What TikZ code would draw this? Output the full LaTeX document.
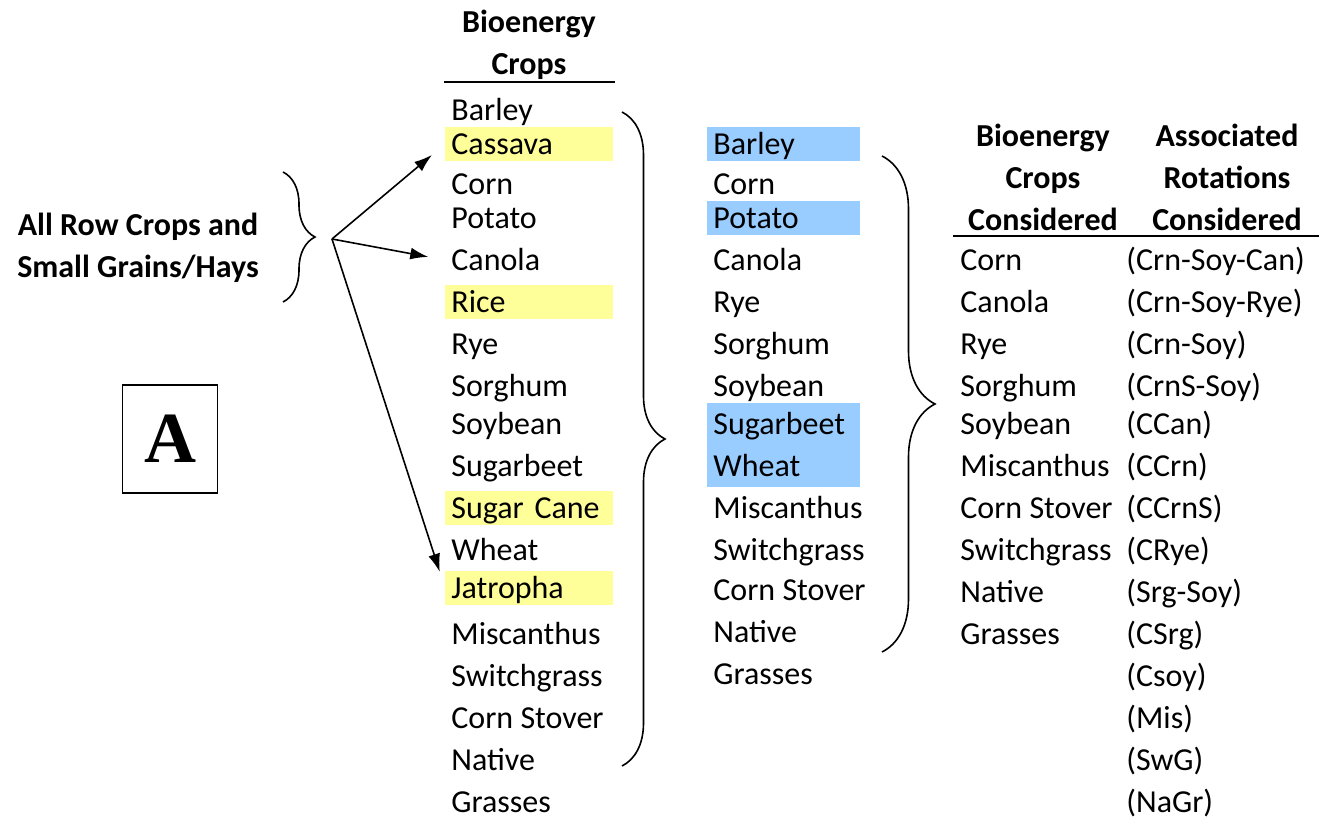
\documentclass[tikz,border=0pt]{standalone}
\usepackage{fontspec}
\setmainfont{Carlito}
\newfontfamily\boxfont{Liberation Serif}
\usepackage{xcolor}
\usetikzlibrary{positioning}
\usetikzlibrary{arrows.meta}
\usetikzlibrary{decorations.pathreplacing}
\definecolor{hlyellow}{RGB}{255,255,153}
\definecolor{hlblue}{RGB}{153,204,255}

\begin{document}
\begin{tikzpicture}
  [x=0.5pt, y=-0.5pt,
    font=\fontsize{16}{21}\selectfont,
    cell/.style={anchor=west, inner xsep=3pt, inner ysep=0pt,
      text height=14pt, text depth=3pt, align=left},
    hy/.style={fill=hlyellow, text width=78pt},
    hb/.style={fill=hlblue, text width=70.5pt},
    head/.style={font=\fontsize{16}{21}\selectfont\bfseries, align=center},
    rule/.style={draw, line width=#1},
    brc/.style={draw, line width=0.8pt, decorate,
      decoration={brace,amplitude=#1}},
    ld/.style={draw, line width=0.8pt, shorten >=8.5pt,
      -{Latex[length=9pt,width=6pt]}}
  ]
  \useasboundingbox (0,0) rectangle (1319,817);

  \node (allrow) at (138,248) [head] {All Row Crops and\\Small Grains/Hays};
  \node (boxA) at (170,439) [draw, line width=0.8pt, minimum width=47.5pt,
    minimum height=54pt, font={\boxfont\bfseries\fontsize{36}{40}\selectfont}] {A};

  \node (headB) at (529,45) [head] {Bioenergy\\Crops};
  \draw [rule=1pt] (444,82) -- (615,82);

  \node  (b0) at (445,110) [cell]     {Barley};
  \node  (b1) at (445,144) [cell, hy] {Cassava};
  \node  (b2) at (445,184) [cell]     {Corn};
  \node  (b3) at (445,218) [cell]     {Potato};
  \node  (b4) at (445,260) [cell]     {Canola};
  \node  (b5) at (445,302) [cell, hy] {Rice};
  \node  (b6) at (445,344) [cell]     {Rye};
  \node  (b7) at (445,386) [cell]     {Sorghum};
  \node  (b8) at (445,424) [cell]     {Soybean};
  \node  (b9) at (445,466) [cell]     {Sugarbeet};
  \node (b10) at (445,508) [cell, hy] {Sugar Cane};
  \node (b11) at (445,550) [cell]     {Wheat};
  \node (b12) at (445,588) [cell, hy] {Jatropha};
  \node (b13) at (445,634) [cell]     {Miscanthus};
  \node (b14) at (445,676) [cell]     {Switchgrass};
  \node (b15) at (445,718) [cell]     {Corn Stover};
  \node (b16) at (445,760) [cell]     {Native};
  \node (b17) at (445,802) [cell]     {Grasses};

  \node  (c0) at (707,144) [cell, hb] {Barley};
  \node  (c1) at (707,184) [cell]     {Corn};
  \node  (c2) at (707,218) [cell, hb] {Potato};
  \node  (c3) at (707,260) [cell]     {Canola};
  \node  (c4) at (707,302) [cell]     {Rye};
  \node  (c5) at (707,344) [cell]     {Sorghum};
  \node  (c6) at (707,386) [cell]     {Soybean};
  \node  (c7) at (707,424) [cell, hb, minimum height=21pt] {Sugarbeet};
  \node  (c8) at (707,466) [cell, hb, minimum height=21pt] {Wheat};
  \node  (c9) at (707,508) [cell]     {Miscanthus};
  \node (c10) at (707,550) [cell]     {Switchgrass};
  \node (c11) at (707,590) [cell]     {Corn Stover};
  \node (c12) at (707,632) [cell]     {Native};
  \node (c13) at (707,674) [cell]     {Grasses};

  \node (headC) at (1043,177) [head] {Bioenergy\\Crops\\Considered};
  \node (headR) at (1227,177) [head] {Associated\\Rotations\\Considered};
  \draw [rule=1.4pt] (953,236) -- (1319,236);

  \node (d0) at (954,260) [cell] {Corn};
  \node (d1) at (954,302) [cell] {Canola};
  \node (d2) at (954,344) [cell] {Rye};
  \node (d3) at (954,386) [cell] {Sorghum};
  \node (d4) at (954,424) [cell] {Soybean};
  \node (d5) at (954,466) [cell] {Miscanthus};
  \node (d6) at (954,508) [cell] {Corn Stover};
  \node (d7) at (954,550) [cell] {Switchgrass};
  \node (d8) at (954,592) [cell] {Native};
  \node (d9) at (954,634) [cell] {Grasses};

  \node  (r0) at (1120,260) [cell] {(Crn-Soy-Can)};
  \node  (r1) at (1120,302) [cell] {(Crn-Soy-Rye)};
  \node  (r2) at (1120,344) [cell] {(Crn-Soy)};
  \node  (r3) at (1120,386) [cell] {(CrnS-Soy)};
  \node  (r4) at (1120,424) [cell] {(CCan)};
  \node  (r5) at (1120,466) [cell] {(CCrn)};
  \node  (r6) at (1120,508) [cell] {(CCrnS)};
  \node  (r7) at (1120,550) [cell] {(CRye)};
  \node  (r8) at (1120,592) [cell] {(Srg-Soy)};
  \node  (r9) at (1120,634) [cell] {(CSrg)};
  \node (r10) at (1120,676) [cell] {(Csoy)};
  \node (r11) at (1120,718) [cell] {(Mis)};
  \node (r12) at (1120,760) [cell] {(SwG)};
  \node (r13) at (1120,802) [cell] {(NaGr)};

  \draw [brc=16pt] (283,172) -- (283,302);
  \draw [brc=21.5pt] (622,112) -- (622,766);
  \draw [brc=26.5pt] (882,156) -- (882,652);

  \coordinate (src) at (332,239);
  \draw [ld] (src) -- (b1.west);
  \draw [ld] (src) -- (b4.west);
  \draw [ld] (src) -- (b12.west);
\end{tikzpicture}
\end{document}
